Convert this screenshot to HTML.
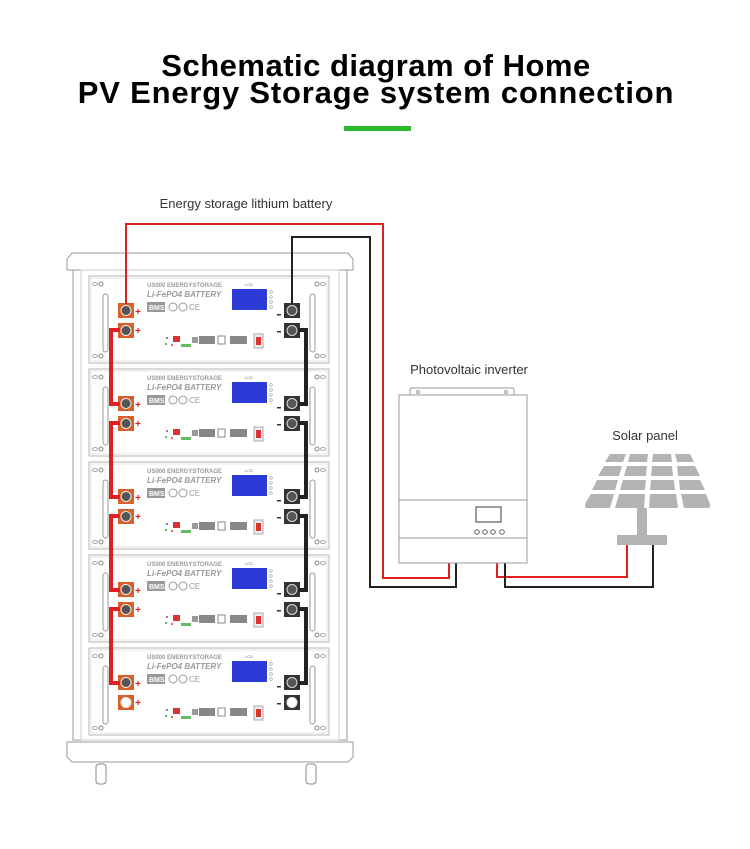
<!DOCTYPE html>
<html><head><meta charset="utf-8"><style>
body{margin:0;background:#fff}
svg{display:block}
text{font-family:"Liberation Sans",sans-serif}
</style></head><body>
<svg width="750" height="849" viewBox="0 0 750 849" xmlns="http://www.w3.org/2000/svg">
<defs>
<g id="mod">
  <rect x="89" y="0" width="240" height="87" fill="#fff" stroke="#b5b5b5" stroke-width="1"/>
  <rect x="91" y="2" width="236" height="83" fill="none" stroke="#dcdcdc" stroke-width="0.7"/>
  <circle cx="101" cy="8" r="2" fill="none" stroke="#888"/><ellipse cx="95" cy="8" rx="2.5" ry="1.5" fill="none" stroke="#aaa"/>
  <circle cx="101" cy="80" r="2" fill="none" stroke="#888"/><ellipse cx="95" cy="80" rx="2.5" ry="1.5" fill="none" stroke="#aaa"/>
  <circle cx="317" cy="8" r="2" fill="none" stroke="#888"/><ellipse cx="323" cy="8" rx="2.5" ry="1.5" fill="none" stroke="#aaa"/>
  <circle cx="317" cy="80" r="2" fill="none" stroke="#888"/><ellipse cx="323" cy="80" rx="2.5" ry="1.5" fill="none" stroke="#aaa"/>
  <rect x="103" y="18" width="5" height="58" rx="2.5" fill="none" stroke="#999"/>
  <rect x="310" y="18" width="5" height="58" rx="2.5" fill="none" stroke="#999"/>
  <text x="147" y="11" font-size="6" fill="#999" font-weight="bold">US000 ENERGYSTORAGE</text>
  <text x="147" y="21" font-size="8" fill="#999" font-weight="bold" font-style="italic">Li-FePO4 BATTERY</text>
  <rect x="147" y="26" width="18" height="10" fill="#999"/><text x="149" y="34" font-size="7" fill="#fff" font-weight="bold">BMS</text>
  <circle cx="173" cy="31" r="4" fill="none" stroke="#999"/><circle cx="183" cy="31" r="4" fill="none" stroke="#999"/><text x="189" y="34" font-size="8" fill="#999">CE</text>
  <text x="245" y="10" font-size="4" fill="#777">LCD</text>
  <rect x="232" y="13" width="35" height="21" fill="#2c3ad6"/>
  <circle cx="271" cy="16" r="1.3" fill="none" stroke="#999" stroke-width="0.6"/>
  <circle cx="271" cy="21" r="1.3" fill="none" stroke="#999" stroke-width="0.6"/>
  <circle cx="271" cy="26" r="1.3" fill="none" stroke="#999" stroke-width="0.6"/>
  <circle cx="271" cy="31" r="1.3" fill="none" stroke="#999" stroke-width="0.6"/>
  <rect x="118" y="27" width="16" height="15" fill="#d6612c"/><circle cx="126" cy="34.5" r="5" fill="#555" stroke="#eee" stroke-width="1"/>
  <rect x="118" y="47" width="16" height="15" fill="#d6612c"/><circle cx="126" cy="54.5" r="5" fill="#555" stroke="#eee" stroke-width="1"/>
  <text x="135" y="39" font-size="10" fill="#e02020" font-weight="bold">+</text>
  <text x="135" y="58" font-size="10" fill="#e02020" font-weight="bold">+</text>
  <rect x="284" y="27" width="16" height="15" fill="#333"/><circle cx="292" cy="34.5" r="5" fill="#555" stroke="#ddd" stroke-width="1"/>
  <rect x="284" y="47" width="16" height="15" fill="#333"/><circle cx="292" cy="54.5" r="5" fill="#555" stroke="#ddd" stroke-width="1"/>
  <rect x="277" y="38" width="4" height="1.5" fill="#333"/><rect x="277" y="55" width="4" height="1.5" fill="#333"/>
  <rect x="166" y="61" width="2" height="2" fill="#888"/>
  <rect x="173" y="60" width="7" height="6" fill="#d33"/>
  <circle cx="166" cy="68" r="1" fill="#2a2"/><circle cx="172" cy="69" r="1" fill="#d33"/>
  <rect x="181" y="68" width="10" height="3" fill="#6b6"/>
  <rect x="192" y="61" width="6" height="6" fill="#999"/>
  <rect x="199" y="60" width="16" height="8" fill="#888"/>
  <rect x="218" y="60" width="7" height="8" fill="none" stroke="#888"/>
  <rect x="230" y="60" width="17" height="8" fill="#888"/>
  <rect x="254" y="58" width="9" height="14" fill="#eee" stroke="#aaa"/><rect x="256" y="61" width="5" height="8" fill="#d33"/>
</g>
</defs>

<text x="376" y="76" font-size="31" font-weight="bold" text-anchor="middle" fill="#000" letter-spacing="0.5">Schematic diagram of Home</text>
<text x="376" y="103" font-size="31" font-weight="bold" text-anchor="middle" fill="#000" letter-spacing="0.8">PV Energy Storage system connection</text>
<rect x="344" y="126" width="67" height="5" fill="#2eb82e"/>

<text x="246" y="208" font-size="13" text-anchor="middle" fill="#333">Energy storage lithium battery</text>
<text x="469" y="374" font-size="13" text-anchor="middle" fill="#333">Photovoltaic inverter</text>
<text x="645" y="440" font-size="13" text-anchor="middle" fill="#333">Solar panel</text>

<!-- cabinet -->
<path d="M72 253 L348 253 L353 259 L353 270 L67 270 L67 259 Z" fill="#fff" stroke="#999"/>
<rect x="73" y="270" width="8" height="470" fill="#fff" stroke="#999"/>
<rect x="339" y="270" width="8" height="470" fill="#fff" stroke="#999"/>
<rect x="81" y="270" width="258" height="470" fill="#fff" stroke="#ccc"/>
<use href="#mod" y="276"/>
<use href="#mod" y="369"/>
<use href="#mod" y="462"/>
<use href="#mod" y="555"/>
<use href="#mod" y="648"/>
<circle cx="126" cy="702.5" r="5" fill="#fff" stroke="#ddd"/>
<circle cx="292" cy="702.5" r="5" fill="#fff" stroke="#ddd"/>
<path d="M67 742 L353 742 L353 757 L348 762 L72 762 L67 757 Z" fill="#fff" stroke="#999"/>
<rect x="96" y="764" width="10" height="20" rx="3" fill="#fff" stroke="#888"/>
<rect x="306" y="764" width="10" height="20" rx="3" fill="#fff" stroke="#888"/>

<!-- external wires -->
<polyline points="126,304 126,224 383,224 383,578 449,578 449,563" fill="none" stroke="#e02020" stroke-width="2"/>
<polyline points="292,304 292,237 370,237 370,587 456,587 456,563" fill="none" stroke="#222" stroke-width="2"/>
<polyline points="497,563 497,577 627,577 627,544" fill="none" stroke="#e02020" stroke-width="2"/>
<polyline points="505,563 505,587 653,587 653,544" fill="none" stroke="#222" stroke-width="2"/>

<!-- internal chain -->
<g stroke="#e02020" stroke-width="4" fill="none">
<polyline points="120,330 111,330 111,404 120,404"/>
<polyline points="120,423 111,423 111,497 120,497"/>
<polyline points="120,516 111,516 111,590 120,590"/>
<polyline points="120,609 111,609 111,683 120,683"/>
</g>
<g stroke="#222" stroke-width="4" fill="none">
<polyline points="298,330 306,330 306,404 298,404"/>
<polyline points="298,423 306,423 306,497 298,497"/>
<polyline points="298,516 306,516 306,590 298,590"/>
<polyline points="298,609 306,609 306,683 298,683"/>
</g>

<!-- inverter -->
<path d="M410 395 L410 390 Q410 388 412 388 L512 388 Q514 388 514 390 L514 395" fill="none" stroke="#999"/>
<circle cx="418" cy="392" r="1.5" fill="none" stroke="#999"/><circle cx="506" cy="392" r="1.5" fill="none" stroke="#999"/>
<rect x="399" y="395" width="128" height="168" fill="#fff" stroke="#999"/>
<line x1="399" y1="500" x2="527" y2="500" stroke="#999"/>
<line x1="399" y1="538" x2="527" y2="538" stroke="#999"/>
<rect x="476" y="507" width="25" height="15" fill="none" stroke="#666" stroke-width="1.3"/>
<circle cx="477" cy="532" r="2.3" fill="none" stroke="#666"/><circle cx="485" cy="532" r="2.3" fill="none" stroke="#666"/>
<circle cx="493" cy="532" r="2.3" fill="none" stroke="#666"/><circle cx="502" cy="532" r="2.3" fill="none" stroke="#666"/>

<!-- solar panel -->
<g fill="#b3b3b3">
<path d="M610 454 L626 454 L623 462 L605 462 Z"/><path d="M630 454 L648 454 L647 462 L628 462 Z"/><path d="M653 454 L671 454 L672 462 L652 462 Z"/><path d="M675 454 L690 454 L694 462 L677 462 Z"/>
<path d="M604 466 L622 466 L619 476 L598 476 Z"/><path d="M627 466 L647 466 L646 476 L624 476 Z"/><path d="M652 466 L672 466 L673 476 L651 476 Z"/><path d="M677 466 L695 466 L700 476 L678 476 Z"/>
<path d="M597 480 L618 480 L615 490 L592 490 Z"/><path d="M623 480 L646 480 L645 490 L620 490 Z"/><path d="M651 480 L674 480 L675 490 L650 490 Z"/><path d="M679 480 L700 480 L705 490 L680 490 Z"/>
<path d="M591 494 L614 494 L610 508 L586 508 Q584 506 586 502 Z"/><path d="M619 494 L645 494 L644 508 L615 508 Z"/><path d="M650 494 L676 494 L678 508 L649 508 Z"/><path d="M681 494 L706 494 L710 504 Q711 508 708 508 L684 508 Z"/>
<rect x="637" y="508" width="10" height="27"/>
<rect x="617" y="535" width="50" height="10"/>
</g>
</svg>
</body></html>
